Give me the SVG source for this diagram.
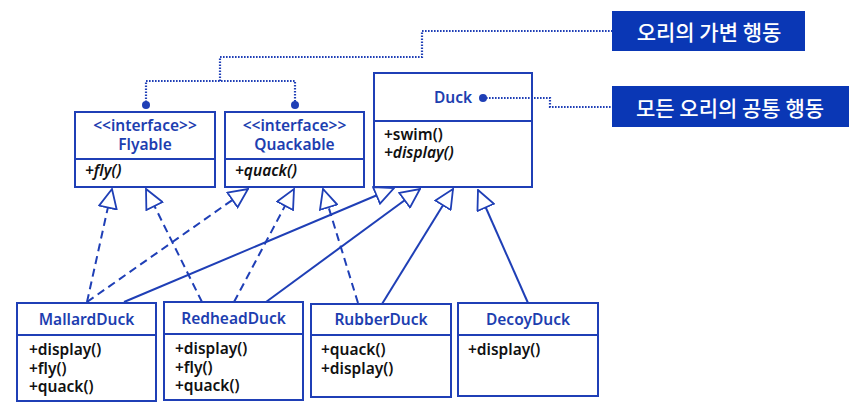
<svg xmlns="http://www.w3.org/2000/svg" width="865" height="415" viewBox="0 0 865 415">
  <style>
    .box { fill: #ffffff; stroke: #1f3fb6; stroke-width: 2; }
    .div { stroke: #1f3fb6; stroke-width: 2; }
    .title { font-family: "Noto Sans", "Noto Sans CJK KR", sans-serif; font-size: 15.5px; font-weight: 600; fill: #1d3eb0; text-anchor: middle; }
    .member { font-family: "Noto Sans", "Noto Sans CJK KR", sans-serif; font-size: 15.5px; font-weight: 600; fill: #111111; }
    .abstract { font-style: italic; }
    .realize { fill: none; stroke: #1f3fb6; stroke-width: 2; stroke-dasharray: 8 5; marker-end: url(#hollow); }
    .inherit { fill: none; stroke: #1f3fb6; stroke-width: 2; marker-end: url(#hollow); }
    .leader { fill: none; stroke: #1f3fb6; stroke-width: 2.2; stroke-dasharray: 1.6 1.4; }
    .pin { fill: #1f3fb6; }
    .tag { fill: #0a37b5; }
    .tagtext { font-family: "Noto Sans CJK KR", "Noto Sans", sans-serif; font-size: 21px; font-weight: 500; fill: #ffffff; text-anchor: middle; dominant-baseline: central; }
  </style>
  <defs>
    <marker id="hollow" viewBox="0 0 21 20" refX="20" refY="10" markerWidth="21" markerHeight="20" markerUnits="userSpaceOnUse" orient="auto">
      <path d="M1,1 L20,10 L1,19 Z" fill="#ffffff" stroke="#1f3fb6" stroke-width="1.8" stroke-linejoin="miter"/>
    </marker>
  </defs>

  <rect width="865" height="415" fill="#ffffff"/>

  <!-- connectors: realizations (dashed) and generalizations (solid) -->
  <g id="connectors">
    <path class="realize" d="M87,302 L112,189"/>
    <path class="realize" d="M202,302 L146,189"/>
    <path class="realize" d="M87,302 L248,189"/>
    <path class="realize" d="M234,302 L294,189"/>
    <path class="realize" d="M358,303 L323,189"/>
    <path class="inherit" d="M124,302 L394,188"/>
    <path class="inherit" d="M266,302 L420,189"/>
    <path class="inherit" d="M382,304 L453,189"/>
    <path class="inherit" d="M528,303 L478,190"/>
  </g>

  <!-- callout tags -->
  <g id="tag-variable">
    <rect class="tag" x="612" y="11" width="193" height="40"/>
    <text class="tagtext" x="709" y="31">오리의 가변 행동</text>
  </g>
  <g id="tag-common">
    <rect class="tag" x="612" y="86" width="237" height="41"/>
    <text class="tagtext" x="730" y="106.5">모든 오리의 공통 행동</text>
  </g>

  <!-- interfaces -->
  <g id="Flyable">
    <rect class="box" x="75" y="112" width="140" height="75"/>
    <line class="div" x1="75" y1="159" x2="215" y2="159"/>
    <text class="title" x="145" y="131">&lt;&lt;interface&gt;&gt;</text>
    <text class="title" x="145" y="150">Flyable</text>
    <text class="member abstract" x="85" y="176">+fly()</text>
  </g>
  <g id="Quackable">
    <rect class="box" x="225" y="112" width="139" height="75"/>
    <line class="div" x1="225" y1="159" x2="364" y2="159"/>
    <text class="title" x="294.5" y="131">&lt;&lt;interface&gt;&gt;</text>
    <text class="title" x="294.5" y="150">Quackable</text>
    <text class="member abstract" x="235" y="176">+quack()</text>
  </g>

  <!-- abstract base class -->
  <g id="Duck">
    <rect class="box" x="374" y="73" width="158" height="114"/>
    <line class="div" x1="374" y1="121" x2="532" y2="121"/>
    <text class="title" x="453" y="103">Duck</text>
    <text class="member" x="384" y="140">+swim()</text>
    <text class="member abstract" x="384" y="158">+display()</text>
  </g>

  <!-- concrete ducks -->
  <g id="MallardDuck">
    <rect class="box" x="17" y="303" width="139" height="98"/>
    <line class="div" x1="17" y1="335" x2="156" y2="335"/>
    <text class="title" x="86.5" y="325">MallardDuck</text>
    <text class="member" x="29" y="355">+display()</text>
    <text class="member" x="29" y="373.5">+fly()</text>
    <text class="member" x="29" y="392">+quack()</text>
  </g>
  <g id="RedheadDuck">
    <rect class="box" x="164" y="302" width="139" height="98"/>
    <line class="div" x1="164" y1="334" x2="303" y2="334"/>
    <text class="title" x="233.5" y="324">RedheadDuck</text>
    <text class="member" x="175" y="354">+display()</text>
    <text class="member" x="175" y="372.5">+fly()</text>
    <text class="member" x="175" y="391">+quack()</text>
  </g>
  <g id="RubberDuck">
    <rect class="box" x="311" y="304" width="140" height="93"/>
    <line class="div" x1="311" y1="335" x2="451" y2="335"/>
    <text class="title" x="381" y="325">RubberDuck</text>
    <text class="member" x="321" y="355">+quack()</text>
    <text class="member" x="321" y="373.5">+display()</text>
  </g>
  <g id="DecoyDuck">
    <rect class="box" x="458" y="303" width="140" height="93"/>
    <line class="div" x1="458" y1="335" x2="598" y2="335"/>
    <text class="title" x="528" y="325">DecoyDuck</text>
    <text class="member" x="468" y="355">+display()</text>
  </g>

  <!-- callout leaders, drawn over the boxes so the pins stay visible -->
  <g id="callouts">
    <path class="leader" d="M146,105 L146,81 L295,81 L295,105"/>
    <path class="leader" d="M220,81 L220,57 L422,57 L422,31 L612,31"/>
    <path class="leader" d="M483,98 L550,98 L550,107 L612,107"/>
    <circle class="pin" cx="146" cy="105" r="4"/>
    <circle class="pin" cx="295" cy="105" r="4"/>
    <circle class="pin" cx="483" cy="98" r="4"/>
  </g>
</svg>
